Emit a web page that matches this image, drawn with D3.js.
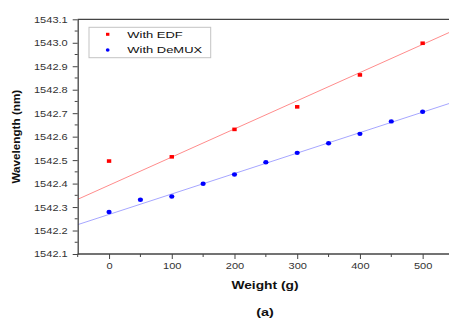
<!DOCTYPE html>
<html>
<head>
<meta charset="utf-8">
<script src="https://cdn.jsdelivr.net/npm/d3@7/dist/d3.min.js"></script>
<style>
  html, body { margin: 0; padding: 0; background: #fff; }
  svg { display: block; font-family: "Liberation Sans", Arial, sans-serif; }
</style>
</head>
<body>
<svg id="chart" width="449" height="323"></svg>
<script>
// Weight vs. centre wavelength for the two set-ups
const weightEDF = [0, 100, 200, 300, 400, 500];
const wavelengthEDF = [1542.496, 1542.514, 1542.631, 1542.727, 1542.863, 1542.998];

const weightDeMUX = [0, 50, 100, 150, 200, 250, 300, 350, 400, 450, 500];
const wavelengthDeMUX = [1542.279, 1542.331, 1542.345, 1542.399, 1542.439, 1542.491,
                         1542.531, 1542.572, 1542.612, 1542.665, 1542.706];

// Linear fit lines (end points in data units)
const fitWeight = [-50, 550];
const fitEDF = [1542.333, 1543.053];
const fitDeMUX = [1542.225, 1542.748];

const seriesNames = ["With EDF", "With DeMUX"];
const xTicks = [0, 100, 200, 300, 400, 500];
const yTicks = [1542.1, 1542.2, 1542.3, 1542.4, 1542.5, 1542.6, 1542.7, 1542.8, 1542.9, 1543.0, 1543.1];

const svg = d3.select("#chart");
const W = 449;

const x = d3.scaleLinear().domain([-50, 550]).range([77.7, 454]);
const y = d3.scaleLinear().domain([1542.1, 1543.1]).range([254, 19.3]);

const axisColor = "#444";
const labelColor = "#333";

// widen a text element horizontally by factor sx
function stretch(sel, sx) {
  sel.each(function () {
    const w = this.getComputedTextLength();
    d3.select(this).attr("textLength", w * sx).attr("lengthAdjust", "spacingAndGlyphs");
  });
}

// clip region for the plot
svg.append("defs").append("clipPath").attr("id", "plotClip")
  .append("rect").attr("x", x.range()[0]).attr("y", y.range()[1])
  .attr("width", W - x.range()[0]).attr("height", y.range()[0] - y.range()[1]);

// fit lines
const plot = svg.append("g").attr("clip-path", "url(#plotClip)");
const line = d3.line().x(d => x(d[0])).y(d => y(d[1]));
plot.append("path")
  .datum(fitWeight.map((w, i) => [w, fitEDF[i]]))
  .attr("d", line).attr("fill", "none").attr("stroke", "#ff8c8c").attr("stroke-width", 1);
plot.append("path")
  .datum(fitWeight.map((w, i) => [w, fitDeMUX[i]]))
  .attr("d", line).attr("fill", "none").attr("stroke", "#a6a6ff").attr("stroke-width", 1);

// EDF markers (squares)
plot.append("g").selectAll("rect")
  .data(weightEDF.map((w, i) => [w, wavelengthEDF[i]]))
  .join("rect")
  .attr("x", d => x(d[0]) - 2.2).attr("y", d => y(d[1]) - 1.8)
  .attr("width", 4.4).attr("height", 3.6)
  .attr("fill", "#ff0000");

// DeMUX markers (small rounded diamonds)
plot.append("g").selectAll("ellipse")
  .data(weightDeMUX.map((w, i) => [w, wavelengthDeMUX[i]]))
  .join("ellipse")
  .attr("cx", d => x(d[0])).attr("cy", d => y(d[1]))
  .attr("rx", 2.6).attr("ry", 2.2)
  .attr("fill", "#0000ff");

// frame: top edge continues past the right side
svg.append("line")
  .attr("x1", x.range()[0]).attr("x2", W)
  .attr("y1", y.range()[1]).attr("y2", y.range()[1])
  .attr("stroke", axisColor).attr("stroke-width", 1.3);

// x axis
const xMinor = d3.range(-50, 551, 50).filter(v => v % 100 !== 0);
const gx = svg.append("g").attr("transform", `translate(0,${y.range()[0]})`);
gx.call(d3.axisBottom(x).tickValues(xTicks).tickSize(5).tickPadding(3.5).tickSizeOuter(0));
gx.append("g").selectAll("line").data(xMinor).join("line")
  .attr("x1", d => x(d)).attr("x2", d => x(d)).attr("y1", 0).attr("y2", 3)
  .attr("stroke", axisColor);
gx.select(".domain").attr("stroke", axisColor).attr("stroke-width", 1.3)
  .attr("d", `M${x.range()[0]},0H${W}`);
gx.selectAll(".tick line").attr("stroke", axisColor);
gx.selectAll(".tick text").attr("fill", labelColor).attr("font-size", 9.2)
  .attr("font-family", "Liberation Sans, Arial, sans-serif").call(stretch, 1.2);

// y axis
const yMinor = d3.range(1542.15, 1543.1, 0.1);
const gy = svg.append("g").attr("transform", `translate(${x.range()[0]},0)`);
gy.call(d3.axisLeft(y).tickValues(yTicks).tickFormat(d3.format(".1f")).tickSize(5).tickPadding(5).tickSizeOuter(0));
gy.append("g").selectAll("line").data(yMinor).join("line")
  .attr("y1", d => y(d)).attr("y2", d => y(d)).attr("x1", 0).attr("x2", -3)
  .attr("stroke", axisColor);
gy.select(".domain").attr("stroke", axisColor).attr("stroke-width", 1.3);
gy.selectAll(".tick line").attr("stroke", axisColor);
gy.selectAll(".tick text").attr("fill", labelColor).attr("font-size", 9.2)
  .attr("font-family", "Liberation Sans, Arial, sans-serif").call(stretch, 1.2);

// axis titles
svg.append("text")
  .attr("x", 265).attr("y", 288.5).attr("text-anchor", "middle")
  .attr("font-size", 11.5).attr("font-weight", "bold").attr("fill", "#111")
  .text("Weight (g)").call(stretch, 1.2);

svg.append("text")
  .attr("transform", `translate(19.5,${(y.range()[0] + y.range()[1]) / 2}) rotate(-90)`)
  .attr("text-anchor", "middle")
  .attr("font-size", 11.7).attr("font-weight", "bold").attr("fill", "#111")
  .text("Wavelength (nm)");

svg.append("text")
  .attr("x", 265).attr("y", 315.5).attr("text-anchor", "middle")
  .attr("font-size", 11.5).attr("font-weight", "bold").attr("fill", "#111")
  .text("(a)").call(stretch, 1.25);

// legend
const legend = svg.append("g");
legend.append("rect")
  .attr("x", 89).attr("y", 27.3).attr("width", 121.7).attr("height", 30.4)
  .attr("fill", "#fff").attr("stroke", "#c4c4c4").attr("stroke-width", 1);
legend.append("rect")
  .attr("x", 107.7 - 1.7).attr("y", 34.3 - 1.5).attr("width", 3.4).attr("height", 3)
  .attr("fill", "#ff0000");
legend.append("ellipse")
  .attr("cx", 107.7).attr("cy", 50).attr("rx", 1.9).attr("ry", 1.7)
  .attr("fill", "#0000ff");
legend.selectAll("text.lbl").data(seriesNames).join("text")
  .attr("class", "lbl")
  .attr("x", 127.3).attr("y", (d, i) => 37.8 + i * 15.6)
  .attr("font-size", 9.6).attr("fill", "#111")
  .text(d => d).call(stretch, 1.35);
</script>
</body>
</html>
